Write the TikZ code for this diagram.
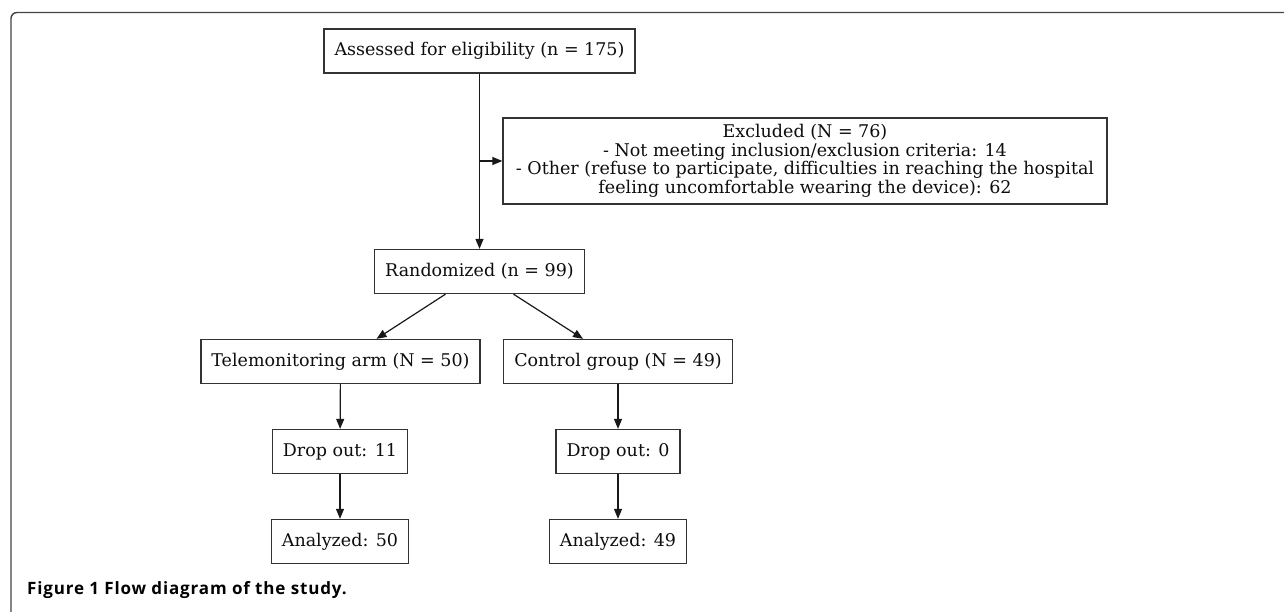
\documentclass[tikz,border=0pt]{standalone}
\usepackage{fontspec}
\usepackage{tikz}
\usetikzlibrary{arrows.meta}
\newfontfamily\boxfont{DejaVu Serif}
\newfontfamily\capfont[LetterSpace=5]{Open Sans}
\definecolor{framegray}{HTML}{444444}
\definecolor{boxgray}{HTML}{333333}

\begin{document}
\begin{tikzpicture}[x=1pt, y=-1pt,
		box/.style={draw=boxgray, line width=1.3pt, inner xsep=10.5pt, minimum height=44pt, align=center, font=\boxfont\fontsize{17.5}{18.5}\selectfont, text=black!95},
		arr/.style={draw=black!90, line width=1.2pt, -{Triangle[length=10pt, width=8pt]}}]
			%%%%% START %%%%%
			
			\useasboundingbox (0, 0) rectangle (1284, 612);
			\draw[line width=1.4pt, color=framegray, rounded corners=6pt] (1290, 12.5) -- (11, 12.5) -- (11, 620);
			
			\node[box] (assess) at (479.5, 51) {Assessed for eligibility (n = 175)};
			\node[box, minimum width=604pt, minimum height=86pt] (excl) at (805, 161) {Excluded (N = 76)\\- Not meeting inclusion/exclusion criteria: 14\\- Other (refuse to participate, difficulties in reaching the hospital\\feeling uncomfortable wearing the device): 62};
			\node[box] (rand) at (479.5, 271.5) {Randomized (n = 99)};
			
			\node[box] (tele) at (340.5, 361.5) {Telemonitoring arm (N = 50)};
			\node[box] (ctrl) at (618, 361.5) {Control group (N = 49)};
			\node[box] (drop1) at (340, 451.5) {Drop out: 11};
			\node[box] (drop2) at (618, 451.5) {Drop out: 0};
			\node[box] (anal1) at (340, 541.5) {Analyzed: 50};
			\node[box] (anal2) at (618, 541.5) {Analyzed: 49};
			
			\coordinate (split) at (479.5, 161);
			\draw[arr] (assess) -- (rand);
			\draw[arr] (split) -- (excl.west);
			\draw[arr] ([xshift=-34pt]rand.south) -- ([xshift=36pt]tele.north);
			\draw[arr] ([xshift=34pt]rand.south) -- ([xshift=-35pt]ctrl.north);
			\draw[arr] (tele) -- (drop1);
			\draw[arr] (drop1) -- (anal1);
			\draw[arr] (ctrl) -- (drop2);
			\draw[arr] (drop2) -- (anal2);
			
			\node[anchor=base west, inner sep=0pt, font=\capfont\bfseries\fontsize{17}{20}\selectfont] (cap) at (27, 594) {Figure 1 Flow diagram of the study.};
			
			%%%%% END %%%%%
\end{tikzpicture}
\end{document}
